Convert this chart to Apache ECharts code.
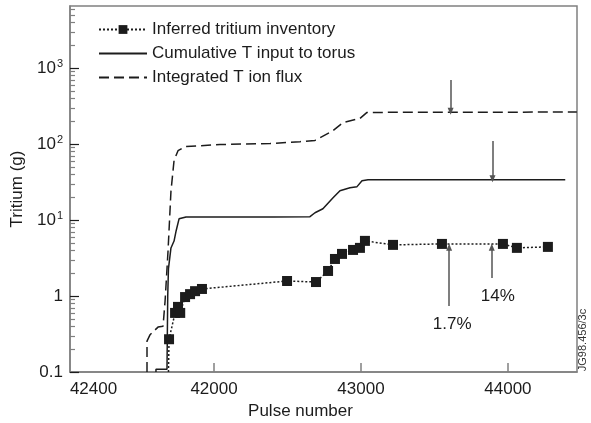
<!DOCTYPE html>
<html>
<head>
<meta charset="utf-8">
<script src="https://cdn.jsdelivr.net/npm/echarts@6/dist/echarts.min.js"></script>
<style>
  html, body { margin: 0; padding: 0; background: #fff; }
  #chart { width: 591px; height: 423px; }
</style>
</head>
<body>
<div id="chart"></div>
<script>
// Integrated T ion flux (dashed)
var fluxPulse = [41544, 41544, 41565, 41619, 41653, 41667, 41687, 41707, 41728, 41755, 41803, 42041, 42381, 42585, 42687, 42810, 42878, 42993, 43041, 44469];
var fluxT = [0.1, 0.255, 0.31, 0.39, 0.40, 0.86, 3.9, 24, 61, 82, 93, 99, 102, 108, 112, 151, 193, 218, 262, 265];

// Cumulative T input to torus (solid)
var inputPulse = [41605, 41605, 41680, 41685, 41690, 41707, 41728, 41742, 41762, 41810, 42400, 42653, 42687, 42741, 42810, 42857, 42925, 42973, 43007, 43048, 44390];
var inputT = [0.1, 0.109, 0.109, 1.0, 2.3, 4.3, 5.3, 7.2, 10.4, 11.0, 11.0, 11.1, 12.5, 14.1, 19.7, 24.4, 26.7, 27.6, 33.0, 34.0, 34.0];

// Inferred tritium inventory (dotted + squares); first point is the line start only
var inventoryPulse = [41690, 41694, 41735, 41755, 41770, 41803, 41837, 41871, 41918, 42497, 42694, 42776, 42823, 42871, 42946, 42993, 43027, 43218, 43551, 43966, 44061, 44272];
var inventoryT = [0.1, 0.27, 0.6, 0.72, 0.6, 0.97, 1.06, 1.16, 1.24, 1.58, 1.53, 2.14, 3.08, 3.59, 4.05, 4.31, 5.33, 4.72, 4.86, 4.86, 4.31, 4.44];

// axis ticks and labels
var xTickValues = [42000, 43000, 44000];
var xLabelValues = [41180, 42000, 43000, 44000];
var xTickLabels = ['42400', '42000', '43000', '44000'];
var yMajorValues = [0.1, 1, 10, 100, 1000];
var yMinorValues = [];
[0.1, 1, 10, 100, 1000].forEach(function (d) {
  for (var k = 2; k <= 9; k++) yMinorValues.push(+(d * k).toPrecision(3));
});

// arrows: [pulse, from, to]
var downArrows = [[43610, 700, 272], [43895, 110, 35]];
var upArrows = [[43600, 0.74, 4.4, '1.7%'], [43890, 1.73, 4.4, '14%']];
var upLabelShift = [3, 6];

var ink = '#1c1c1c';
var axisGrey = '#808080';
var font = 'Liberation Sans, Arial, sans-serif';

function zip(a, b) {
  return a.map(function (v, i) { return [v, b[i]]; });
}

var markArrows = [];
downArrows.forEach(function (a) {
  markArrows.push([
    { coord: [a[0], a[1]], symbol: 'none' },
    { coord: [a[0], a[2]], symbol: 'triangle', symbolSize: [6, 7] }
  ]);
});
upArrows.forEach(function (a, i) {
  markArrows.push([
    { coord: [a[0], a[1]], symbol: 'none', label: { show: true, formatter: a[3], offset: [upLabelShift[i], -2] } },
    { coord: [a[0], a[2]], symbol: 'triangle', symbolSize: [6, 7] }
  ]);
});

var chart = echarts.init(document.getElementById('chart'));
var option = {
  animation: false,
  textStyle: { fontFamily: font },
  grid: {
    left: 70, right: 14, top: 6, bottom: 51,
    outerBoundsMode: 'none',
    containLabel: false,
    show: true, borderColor: axisGrey, borderWidth: 1.5
  },
  legend: {
    orient: 'vertical',
    left: 93, top: 16,
    itemWidth: 48, itemHeight: 11, itemGap: 7,
    textStyle: { fontSize: 17, color: ink, fontFamily: font, lineHeight: 17 },
    data: [
      { name: 'Inferred tritium inventory' },
      { name: 'Cumulative T input to torus', itemStyle: { opacity: 0 } },
      { name: 'Integrated T ion flux', itemStyle: { opacity: 0 } }
    ]
  },
  xAxis: {
    type: 'value',
    min: 41020, max: 44470,
    name: 'Pulse number',
    nameLocation: 'middle',
    nameGap: 30,
    nameTextStyle: { fontSize: 17, color: ink, padding: [0, 46, 0, 0] },
    axisLine: { lineStyle: { color: axisGrey, width: 1.5 } },
    axisTick: { inside: true, length: 9, lineStyle: { color: axisGrey, width: 1.5 }, customValues: xTickValues },
    axisLabel: {
      fontSize: 17, color: ink, margin: 9,
      customValues: xLabelValues,
      formatter: function (v) {
        var i = xLabelValues.indexOf(v);
        return i >= 0 ? xTickLabels[i] : '';
      }
    },
    splitLine: { show: false }
  },
  yAxis: [
    {
      type: 'log', logBase: 10,
      min: 0.1, max: 6600,
      name: 'Tritium (g)',
      nameLocation: 'middle',
      nameGap: 42,
      nameTextStyle: { fontSize: 17, color: ink },
      axisLine: { lineStyle: { color: axisGrey, width: 1.5 } },
      axisTick: { inside: true, length: 9, lineStyle: { color: ink, width: 1.2 }, customValues: yMajorValues },
      axisLabel: {
        color: ink, margin: 7,
        customValues: yMajorValues,
        formatter: function (v) {
          if (v < 0.5) return '{b|0.1}';
          if (v < 5) return '{b|1}';
          return '{b|10}{s|' + Math.round(Math.log10(v)) + '}';
        },
        rich: {
          b: { fontSize: 17, color: ink, fontFamily: font },
          s: { fontSize: 11, color: ink, fontFamily: font, verticalAlign: 'top', padding: [0, 0, 9, 1] }
        }
      },
      splitLine: { show: false }
    },
    {
      type: 'log', logBase: 10,
      min: 0.1, max: 6600,
      position: 'left',
      axisLine: { show: false },
      axisTick: { inside: true, length: 5, lineStyle: { color: axisGrey, width: 1.2 }, customValues: yMinorValues },
      axisLabel: { show: false },
      splitLine: { show: false }
    }
  ],
  graphic: [
    {
      type: 'text',
      x: 583, y: 340,
      rotation: Math.PI / 2,
      style: {
        text: 'JG98.456/3c', fontSize: 11, fill: '#333', fontFamily: font,
        align: 'center', verticalAlign: 'middle'
      }
    }
  ],
  series: [
    {
      name: 'Inferred tritium inventory',
      type: 'line',
      data: zip(inventoryPulse, inventoryT).map(function (p, i) {
        return i === 0 ? { value: p, symbol: 'none' } : p;
      }),
      symbol: 'rect', symbolSize: 10,
      itemStyle: { color: ink },
      lineStyle: { color: ink, width: 1.5, type: [2, 2] },
      z: 5,
      markLine: {
        silent: true,
        animation: false,
        lineStyle: { color: '#555', width: 1.5, type: 'solid' },
        label: { show: false, position: 'start', distance: 12, fontSize: 17, color: ink },
        emphasis: { disabled: true },
        data: markArrows
      }
    },
    {
      name: 'Cumulative T input to torus',
      type: 'line',
      data: zip(inputPulse, inputT),
      symbol: 'none',
      itemStyle: { color: ink },
      lineStyle: { color: ink, width: 1.5 }
    },
    {
      name: 'Integrated T ion flux',
      type: 'line',
      data: zip(fluxPulse, fluxT),
      symbol: 'none',
      itemStyle: { color: ink },
      lineStyle: { color: ink, width: 1.5, type: [10, 5] }
    }
  ]
};
chart.setOption(option);
</script>
</body>
</html>
